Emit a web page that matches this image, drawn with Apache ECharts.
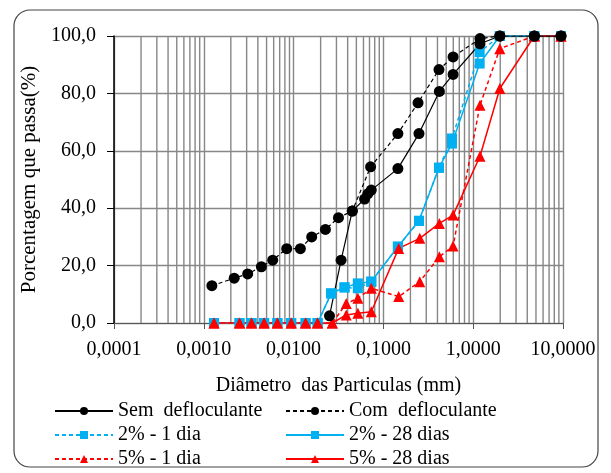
<!DOCTYPE html>
<html>
<head>
<meta charset="UTF-8">
<title>Curva granulometrica</title>
<script src="https://cdn.jsdelivr.net/npm/echarts@6/dist/echarts.min.js"></script>
<style>
  html, body { margin: 0; padding: 0; background: #fff; }
</style>
</head>
<body>
	<div id="granChart" style="width:611px;height:473px;"></div>
</body>
</html>
<script type="text/javascript">
// diametros (mm) e porcentagem que passa (%)
var semDiam = [0.0251, 0.0338, 0.045, 0.0617, 0.067, 0.0733, 0.145, 0.249, 0.42, 0.597, 1.19, 1.98, 4.8, 9.5];
var semPass = [2.5, 21.9, 39.0, 43.2, 45.0, 46.3, 53.8, 66.0, 80.7, 86.6, 97.3, 100, 100, 100];

var comDiam = [0.00123, 0.00218, 0.00308, 0.00438, 0.00585, 0.00838, 0.0119, 0.0159, 0.0226, 0.0316, 0.045, 0.072, 0.145, 0.243, 0.416, 0.597, 1.19, 1.98, 4.8, 9.5];
var comPass = [13.0, 15.6, 17.1, 19.6, 21.9, 25.9, 25.9, 30.0, 32.6, 36.7, 39.0, 54.4, 66.0, 76.7, 88.3, 92.7, 99.1, 100, 100, 100];

var cal2Diam = [0.0013, 0.0025, 0.0034, 0.0047, 0.0066, 0.0094, 0.0136, 0.0185, 0.0262, 0.0369, 0.0519, 0.0733, 0.145, 0.249, 0.416, 0.58, 1.18, 1.98, 4.8, 9.5];
var cal2Dia1 = [0, 0, 0, 0, 0, 0, 0, 0, 10.3, 12.4, 12.1, 14.4, 26.6, 35.6, 54.1, 64.3, 94.4, 100, 100, 100];
var cal2Dia28 = [0, 0, 0, 0, 0, 0, 0, 0, 10.3, 12.4, 13.8, 14.4, 26.6, 35.6, 54.1, 62.5, 90.4, 100, 100, 100];

var cal5Diam = [0.0013, 0.0025, 0.0034, 0.0047, 0.0066, 0.0094, 0.0136, 0.0185, 0.027, 0.0386, 0.052, 0.0733, 0.148, 0.254, 0.42, 0.597, 1.19, 1.98, 4.8, 9.5];
var cal5Dia1 = [0, 0, 0, 0, 0, 0, 0, 0, 0, 6.8, 8.6, 12.1, 9.2, 14.4, 23.1, 26.8, 75.9, 95.6, 100, 100];
var cal5Dia28 = [0, 0, 0, 0, 0, 0, 0, 0, 0, 2.8, 3.4, 3.9, 26.0, 29.5, 34.7, 37.6, 58.1, 81.7, 100, 100];

var xDecades = [0.0001, 0.001, 0.01, 0.1, 1, 10];

function pares(xs, ys) {
	var out = [];
	for (var i = 0; i < xs.length; i++) out.push([xs[i], ys[i]]);
	return out;
}

// linhas secundarias da grade log (2..9 de cada decada)
var minorX = [];
for (var d = 0; d < xDecades.length - 1; d++) {
	for (var k = 2; k <= 9; k++) {
		minorX.push([+(xDecades[d] * k).toPrecision(3), 0]);
	}
}

var fonte = 'Liberation Serif';
var cinza = '#878787';
var txt = { fontFamily: fonte, fontSize: 20, color: '#000', lineHeight: 20 };

var chart = echarts.init(document.getElementById('granChart'));
var option = {
	animation: false,
	textStyle: { fontFamily: fonte },
	graphic: [{
		type: 'rect',
		shape: { x: 14, y: 10, width: 584, height: 457, r: 16 },
		style: { fill: 'none', stroke: '#444', lineWidth: 1.2 },
		silent: true
	}],
	grid: { left: 114, right: 48, top: 36, bottom: 150 },
	legend: [{
		orient: 'vertical',
		left: 54, top: 401, padding: 0,
		itemWidth: 58, itemHeight: 10, itemGap: 4,
		textStyle: txt,
		data: ['Sem  defloculante', '2% - 1 dia', '5% - 1 dia']
	}, {
		orient: 'vertical',
		left: 285, top: 401, padding: 0,
		itemWidth: 58, itemHeight: 10, itemGap: 4,
		textStyle: txt,
		data: ['Com  defloculante', '2% - 28 dias', '5% - 28 dias']
	}],
	xAxis: {
		type: 'log',
		min: 0.0001, max: 10,
		name: 'Diâmetro  das Particulas (mm)',
		nameLocation: 'middle', nameGap: 53,
		nameTextStyle: { fontFamily: fonte, fontSize: 20, color: '#000' },
		axisLine: { lineStyle: { color: '#555', width: 1 } },
		axisTick: { show: true, length: 6, lineStyle: { color: '#555' } },
		axisLabel: {
			fontFamily: fonte, fontSize: 20, color: '#000', margin: 17,
			formatter: function (v) { return v.toFixed(4).replace('.', ','); }
		},
		splitLine: { show: true, lineStyle: { color: cinza, width: 1.4 } }
	},
	yAxis: {
		type: 'value',
		min: 0, max: 100, interval: 20,
		name: 'Porcentagem que passa(%)',
		nameLocation: 'middle', nameGap: 68, nameRotate: 90,
		nameTextStyle: { fontFamily: fonte, fontSize: 21, color: '#000' },
		axisLine: { show: true, lineStyle: { color: '#000', width: 1.5 } },
		axisTick: { show: true, length: 7, lineStyle: { color: '#000' } },
		axisLabel: {
			fontFamily: fonte, fontSize: 20, color: '#000', margin: 18,
			formatter: function (v) { return v.toFixed(1).replace('.', ','); }
		},
		splitLine: { show: true, lineStyle: { color: cinza, width: 1.4 } }
	},
	series: [{
		name: 'grade',
		type: 'custom',
		silent: true,
		z: 1,
		data: minorX,
		renderItem: function (params, api) {
			var p1 = api.coord([api.value(0), 0]);
			var p2 = api.coord([api.value(0), 100]);
			return {
				type: 'line',
				shape: { x1: p1[0], y1: p1[1], x2: p2[0], y2: p2[1] },
				style: { stroke: cinza, lineWidth: 1.4 }
			};
		}
	}, {
		name: '2% - 1 dia',
		type: 'line',
		data: pares(cal2Diam, cal2Dia1),
		symbol: 'rect', symbolSize: 10,
		itemStyle: { color: '#00B0F0' },
		lineStyle: { color: '#00B0F0', width: 1.5, type: [4, 3] }
	}, {
		name: '2% - 28 dias',
		type: 'line',
		data: pares(cal2Diam, cal2Dia28),
		symbol: 'rect', symbolSize: 10,
		itemStyle: { color: '#00B0F0' },
		lineStyle: { color: '#00B0F0', width: 1.5 }
	}, {
		name: '5% - 1 dia',
		type: 'line',
		data: pares(cal5Diam, cal5Dia1),
		symbol: 'triangle', symbolSize: 11,
		itemStyle: { color: '#FF0000' },
		lineStyle: { color: '#FF0000', width: 1.5, type: [4, 3] }
	}, {
		name: '5% - 28 dias',
		type: 'line',
		data: pares(cal5Diam, cal5Dia28),
		symbol: 'triangle', symbolSize: 11,
		itemStyle: { color: '#FF0000' },
		lineStyle: { color: '#FF0000', width: 1.5 }
	}, {
		name: 'Com  defloculante',
		type: 'line',
		data: pares(comDiam, comPass),
		symbol: 'circle', symbolSize: 11,
		itemStyle: { color: '#000' },
		lineStyle: { color: '#000', width: 1.2, type: [4, 3] }
	}, {
		name: 'Sem  defloculante',
		type: 'line',
		data: pares(semDiam, semPass),
		symbol: 'circle', symbolSize: 11,
		itemStyle: { color: '#000' },
		lineStyle: { color: '#000', width: 1.2 }
	}]
};
chart.setOption(option);
</script>
